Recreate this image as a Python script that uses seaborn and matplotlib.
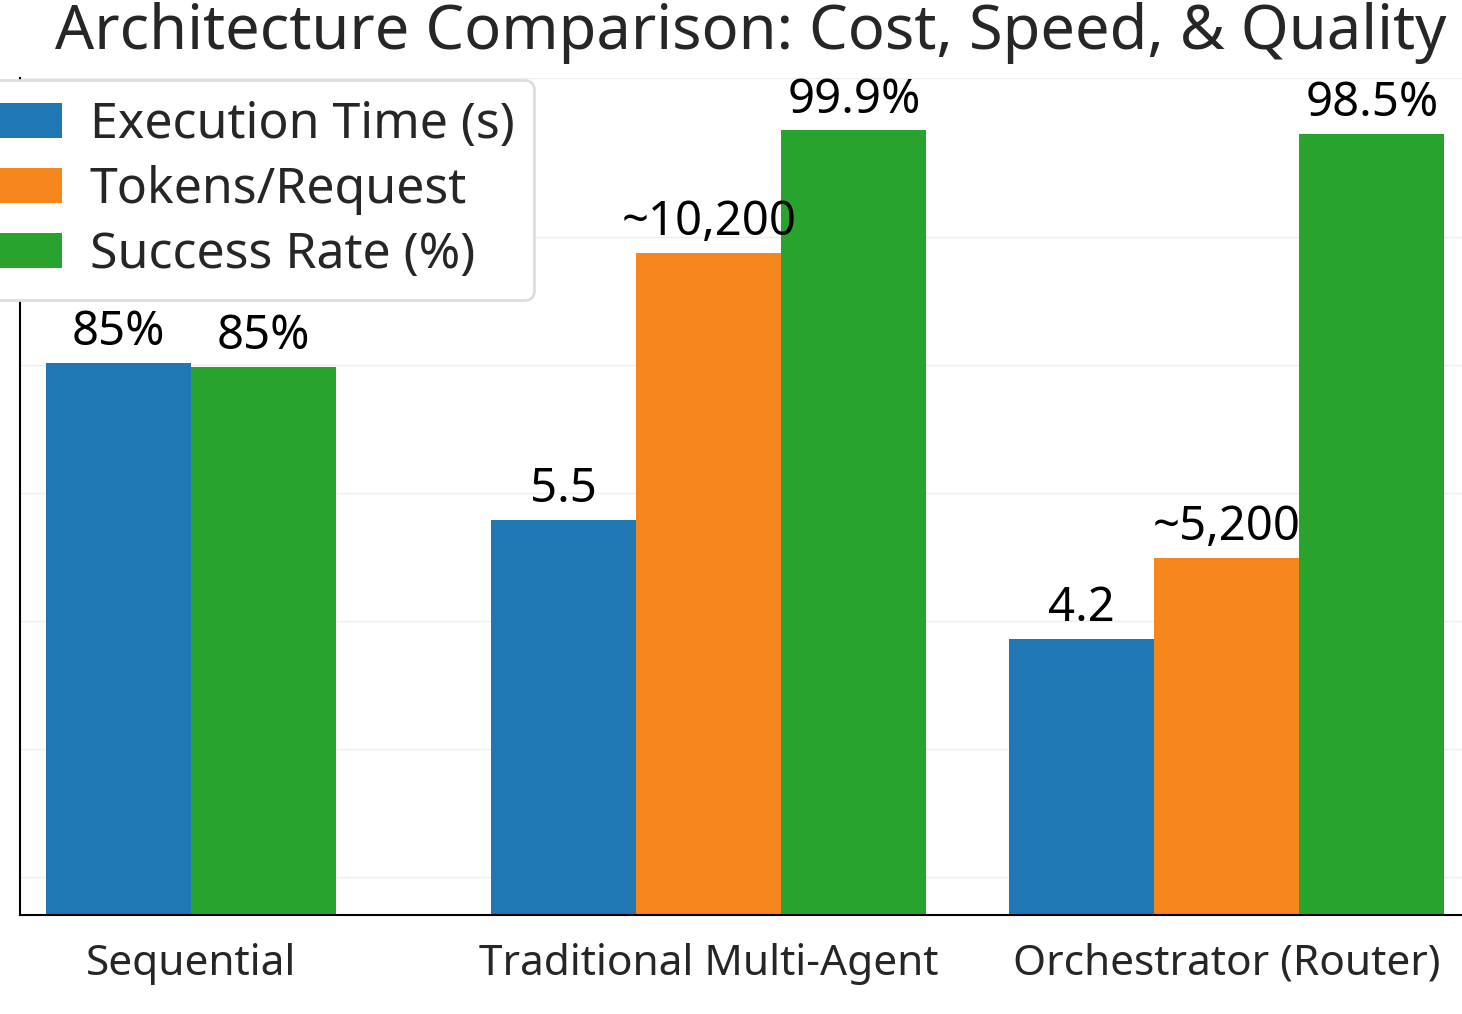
import numpy as np
import pandas as pd
import seaborn as sns
import matplotlib
matplotlib.use("Agg")
import matplotlib.pyplot as plt

# data; bar heights are in gridline steps
architectures = ["Sequential", "Traditional Multi-Agent", "Orchestrator (Router)"]
metrics = ["Execution Time (s)", "Tokens/Request", "Success Rate (%)"]
exec_heights = [4.31, 3.09, 2.16]
token_heights = [np.nan, 5.17, 2.79]
success_heights = [4.28, 6.13, 6.10]
exec_labels = ["85%", "5.5", "4.2"]
token_labels = ["", "~10,200", "~5,200"]
success_labels = ["85%", "99.9%", "98.5%"]

colors = ["#1f77b4", "#f5861b", "#28a32e"]

rows = []
for i, arch in enumerate(architectures):
    for metric, h, lab in zip(metrics,
                              [exec_heights[i], token_heights[i], success_heights[i]],
                              [exec_labels[i], token_labels[i], success_labels[i]]):
        if not np.isnan(h):
            rows.append({"architecture": arch, "metric": metric, "height": h, "label": lab})
df = pd.DataFrame(rows)

sns.set_style("whitegrid")
plt.rcParams["font.family"] = ["Noto Sans", "DejaVu Sans"]

W, H = 1462, 1014
fig = plt.figure(figsize=(W / 100, H / 100), dpi=100)
ax = fig.add_axes([20 / W, 99 / H, 1 - 20 / W, (915 - 78) / H])

sns.barplot(data=df, x="architecture", y="height", hue="metric",
            order=architectures, hue_order=metrics, palette=colors,
            width=0.84, saturation=1, linewidth=0, ax=ax, legend=True)

# Sequential has no token bar: close the gap between its two bars
for cont in ax.containers:
    for p in cont.patches:
        c = p.get_x() + p.get_width() / 2
        if abs(c) < 0.5:
            p.set_x(c / 2 - p.get_width() / 2)

# value labels
for hue_i, cont in enumerate(ax.containers):
    labs = []
    for p in cont.patches:
        cat = int(round(p.get_x() + p.get_width() / 2))
        sub = df[(df.architecture == architectures[cat]) & (df.metric == metrics[hue_i])]
        labs.append(sub.label.iloc[0] if len(sub) else "")
    ax.bar_label(cont, labels=labs, padding=5, fontsize=34, color="black")

ax.set_xlim(-0.33, 2.454)
ax.set_ylim(0, 6.54)
ax.set_yticks(list(np.arange(0.3, 5.4, 1.0)) + [6.54])
ax.set_yticklabels([])
ax.tick_params(axis="y", length=0)
ax.tick_params(axis="x", length=11, width=1.3, color="black", pad=9, labelsize=30.5)
ax.grid(axis="y", color="#eeeeee", linewidth=1)
ax.grid(axis="x", visible=False)
ax.set_xlabel("")
ax.set_ylabel("")
for s in ["top", "right"]:
    ax.spines[s].set_visible(False)
for s in ["left", "bottom"]:
    ax.spines[s].set_color("black")
    ax.spines[s].set_linewidth(1.5)

handles, labels = ax.get_legend_handles_labels()
ax.get_legend().remove()
leg = fig.legend(handles, labels, loc="upper left",
                 bbox_to_anchor=(-58 / W, 1 - 80 / H), bbox_transform=fig.transFigure,
                 borderaxespad=0, fontsize=36, handlelength=2.0, handletextpad=0.55,
                 labelspacing=0.3, borderpad=0.4, frameon=True, fancybox=True, framealpha=1)
leg.get_frame().set_edgecolor("#dddddd")
leg.get_frame().set_linewidth(2)

fig.text(55 / W, 1 - 49 / H, "Architecture Comparison: Cost, Speed, & Quality",
         fontsize=44.2, ha="left", va="baseline")

fig.savefig("out.png", dpi=100)
